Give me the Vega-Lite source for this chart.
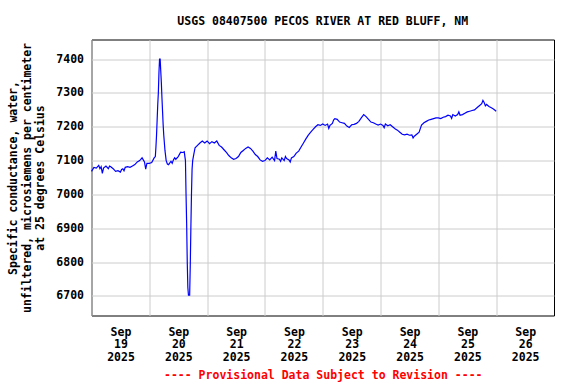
{
  "$schema": "https://vega.github.io/schema/vega-lite/v6.json",
  "width": 462.5,
  "height": 276,
  "autosize": {"type": "none"},
  "padding": {"left": 91.5, "top": 39.5, "right": 22, "bottom": 68.5},
  "background": "white",
  "config": {
    "view": {"stroke": "black", "strokeWidth": 1},
    "font": "DejaVu Sans Mono"
  },
  "title": {
    "text": "USGS 08407500 PECOS RIVER AT RED BLUFF, NM",
    "font": "DejaVu Sans Mono",
    "fontSize": 11.5,
    "fontWeight": "bold",
    "color": "black",
    "anchor": "middle",
    "offset": 12
  },
  "data": {
    "values": [
      {"t": "2025-09-19T00:00", "v": 7068},
      {"t": "2025-09-19T01:00", "v": 7080},
      {"t": "2025-09-19T02:00", "v": 7078},
      {"t": "2025-09-19T03:00", "v": 7086},
      {"t": "2025-09-19T03:30", "v": 7076},
      {"t": "2025-09-19T04:00", "v": 7082},
      {"t": "2025-09-19T04:30", "v": 7062},
      {"t": "2025-09-19T05:00", "v": 7078},
      {"t": "2025-09-19T06:00", "v": 7084},
      {"t": "2025-09-19T07:00", "v": 7076},
      {"t": "2025-09-19T07:30", "v": 7084},
      {"t": "2025-09-19T08:00", "v": 7082},
      {"t": "2025-09-19T09:00", "v": 7076},
      {"t": "2025-09-19T10:00", "v": 7068},
      {"t": "2025-09-19T11:00", "v": 7070},
      {"t": "2025-09-19T12:00", "v": 7066},
      {"t": "2025-09-19T12:30", "v": 7074},
      {"t": "2025-09-19T13:00", "v": 7076},
      {"t": "2025-09-19T13:30", "v": 7070},
      {"t": "2025-09-19T14:00", "v": 7080},
      {"t": "2025-09-19T15:00", "v": 7082},
      {"t": "2025-09-19T16:00", "v": 7080},
      {"t": "2025-09-19T17:00", "v": 7084},
      {"t": "2025-09-19T18:00", "v": 7088},
      {"t": "2025-09-19T19:00", "v": 7096},
      {"t": "2025-09-19T20:00", "v": 7100},
      {"t": "2025-09-19T21:00", "v": 7108},
      {"t": "2025-09-19T22:00", "v": 7096},
      {"t": "2025-09-19T22:30", "v": 7075},
      {"t": "2025-09-19T23:00", "v": 7092},
      {"t": "2025-09-20T00:00", "v": 7092},
      {"t": "2025-09-20T01:00", "v": 7094},
      {"t": "2025-09-20T02:00", "v": 7108},
      {"t": "2025-09-20T02:30", "v": 7112},
      {"t": "2025-09-20T02:45", "v": 7140},
      {"t": "2025-09-20T03:00", "v": 7175},
      {"t": "2025-09-20T03:15", "v": 7220},
      {"t": "2025-09-20T03:30", "v": 7265},
      {"t": "2025-09-20T03:45", "v": 7300},
      {"t": "2025-09-20T04:00", "v": 7360},
      {"t": "2025-09-20T04:15", "v": 7400},
      {"t": "2025-09-20T04:30", "v": 7400},
      {"t": "2025-09-20T04:45", "v": 7365},
      {"t": "2025-09-20T05:00", "v": 7330},
      {"t": "2025-09-20T05:15", "v": 7285},
      {"t": "2025-09-20T05:30", "v": 7245},
      {"t": "2025-09-20T05:45", "v": 7205},
      {"t": "2025-09-20T06:00", "v": 7175},
      {"t": "2025-09-20T06:30", "v": 7130},
      {"t": "2025-09-20T07:00", "v": 7100},
      {"t": "2025-09-20T07:30", "v": 7090},
      {"t": "2025-09-20T08:00", "v": 7088},
      {"t": "2025-09-20T09:00", "v": 7098},
      {"t": "2025-09-20T09:30", "v": 7092},
      {"t": "2025-09-20T10:00", "v": 7102},
      {"t": "2025-09-20T10:30", "v": 7108},
      {"t": "2025-09-20T11:00", "v": 7104},
      {"t": "2025-09-20T12:00", "v": 7112},
      {"t": "2025-09-20T13:00", "v": 7125},
      {"t": "2025-09-20T14:00", "v": 7124},
      {"t": "2025-09-20T14:30", "v": 7126},
      {"t": "2025-09-20T15:00", "v": 7100},
      {"t": "2025-09-20T15:15", "v": 7000},
      {"t": "2025-09-20T15:30", "v": 6915},
      {"t": "2025-09-20T15:45", "v": 6800},
      {"t": "2025-09-20T16:00", "v": 6725},
      {"t": "2025-09-20T16:15", "v": 6702},
      {"t": "2025-09-20T16:30", "v": 6702},
      {"t": "2025-09-20T16:45", "v": 6702},
      {"t": "2025-09-20T17:00", "v": 6790},
      {"t": "2025-09-20T17:15", "v": 6900},
      {"t": "2025-09-20T17:30", "v": 7000},
      {"t": "2025-09-20T17:45", "v": 7074},
      {"t": "2025-09-20T18:00", "v": 7100},
      {"t": "2025-09-20T18:30", "v": 7120},
      {"t": "2025-09-20T19:00", "v": 7138},
      {"t": "2025-09-20T20:00", "v": 7145},
      {"t": "2025-09-20T21:00", "v": 7152},
      {"t": "2025-09-20T22:00", "v": 7158},
      {"t": "2025-09-20T23:00", "v": 7152},
      {"t": "2025-09-21T00:00", "v": 7158},
      {"t": "2025-09-21T01:00", "v": 7150},
      {"t": "2025-09-21T02:00", "v": 7156},
      {"t": "2025-09-21T03:00", "v": 7152},
      {"t": "2025-09-21T04:00", "v": 7158},
      {"t": "2025-09-21T05:00", "v": 7145},
      {"t": "2025-09-21T06:00", "v": 7140},
      {"t": "2025-09-21T07:00", "v": 7132},
      {"t": "2025-09-21T08:00", "v": 7124},
      {"t": "2025-09-21T09:00", "v": 7115},
      {"t": "2025-09-21T10:00", "v": 7108},
      {"t": "2025-09-21T11:00", "v": 7104},
      {"t": "2025-09-21T12:00", "v": 7106},
      {"t": "2025-09-21T13:00", "v": 7112},
      {"t": "2025-09-21T14:00", "v": 7124},
      {"t": "2025-09-21T15:00", "v": 7130},
      {"t": "2025-09-21T16:00", "v": 7136},
      {"t": "2025-09-21T17:00", "v": 7140},
      {"t": "2025-09-21T18:00", "v": 7136},
      {"t": "2025-09-21T19:00", "v": 7128},
      {"t": "2025-09-21T20:00", "v": 7118},
      {"t": "2025-09-21T21:00", "v": 7112},
      {"t": "2025-09-21T22:00", "v": 7102},
      {"t": "2025-09-21T23:00", "v": 7098},
      {"t": "2025-09-22T00:00", "v": 7100},
      {"t": "2025-09-22T01:00", "v": 7108},
      {"t": "2025-09-22T02:00", "v": 7102},
      {"t": "2025-09-22T03:00", "v": 7110},
      {"t": "2025-09-22T04:00", "v": 7100},
      {"t": "2025-09-22T04:30", "v": 7128},
      {"t": "2025-09-22T05:00", "v": 7106},
      {"t": "2025-09-22T06:00", "v": 7104},
      {"t": "2025-09-22T06:30", "v": 7098},
      {"t": "2025-09-22T07:00", "v": 7108},
      {"t": "2025-09-22T08:00", "v": 7100},
      {"t": "2025-09-22T08:30", "v": 7112},
      {"t": "2025-09-22T09:00", "v": 7106},
      {"t": "2025-09-22T10:00", "v": 7102},
      {"t": "2025-09-22T10:30", "v": 7096},
      {"t": "2025-09-22T11:00", "v": 7108},
      {"t": "2025-09-22T12:00", "v": 7112},
      {"t": "2025-09-22T13:00", "v": 7122},
      {"t": "2025-09-22T14:00", "v": 7128},
      {"t": "2025-09-22T15:00", "v": 7140},
      {"t": "2025-09-22T16:00", "v": 7152},
      {"t": "2025-09-22T17:00", "v": 7164},
      {"t": "2025-09-22T18:00", "v": 7175},
      {"t": "2025-09-22T19:00", "v": 7184},
      {"t": "2025-09-22T20:00", "v": 7192},
      {"t": "2025-09-22T21:00", "v": 7200},
      {"t": "2025-09-22T22:00", "v": 7206},
      {"t": "2025-09-22T23:00", "v": 7204},
      {"t": "2025-09-23T00:00", "v": 7208},
      {"t": "2025-09-23T01:00", "v": 7204},
      {"t": "2025-09-23T02:00", "v": 7208},
      {"t": "2025-09-23T02:30", "v": 7195},
      {"t": "2025-09-23T03:00", "v": 7204},
      {"t": "2025-09-23T04:00", "v": 7210},
      {"t": "2025-09-23T04:30", "v": 7220},
      {"t": "2025-09-23T05:00", "v": 7224},
      {"t": "2025-09-23T06:00", "v": 7222},
      {"t": "2025-09-23T07:00", "v": 7214},
      {"t": "2025-09-23T08:00", "v": 7212},
      {"t": "2025-09-23T09:00", "v": 7210},
      {"t": "2025-09-23T10:00", "v": 7202},
      {"t": "2025-09-23T11:00", "v": 7198},
      {"t": "2025-09-23T12:00", "v": 7206},
      {"t": "2025-09-23T13:00", "v": 7207},
      {"t": "2025-09-23T14:00", "v": 7210},
      {"t": "2025-09-23T15:00", "v": 7216},
      {"t": "2025-09-23T16:00", "v": 7226},
      {"t": "2025-09-23T17:00", "v": 7236},
      {"t": "2025-09-23T18:00", "v": 7230},
      {"t": "2025-09-23T19:00", "v": 7222},
      {"t": "2025-09-23T20:00", "v": 7214},
      {"t": "2025-09-23T21:00", "v": 7212},
      {"t": "2025-09-23T22:00", "v": 7208},
      {"t": "2025-09-23T23:00", "v": 7205},
      {"t": "2025-09-24T00:00", "v": 7208},
      {"t": "2025-09-24T01:00", "v": 7204},
      {"t": "2025-09-24T01:30", "v": 7197},
      {"t": "2025-09-24T02:00", "v": 7208},
      {"t": "2025-09-24T03:00", "v": 7203},
      {"t": "2025-09-24T04:00", "v": 7206},
      {"t": "2025-09-24T05:00", "v": 7200},
      {"t": "2025-09-24T06:00", "v": 7194},
      {"t": "2025-09-24T07:00", "v": 7190},
      {"t": "2025-09-24T08:00", "v": 7184},
      {"t": "2025-09-24T09:00", "v": 7178},
      {"t": "2025-09-24T10:00", "v": 7176},
      {"t": "2025-09-24T11:00", "v": 7178},
      {"t": "2025-09-24T12:00", "v": 7175},
      {"t": "2025-09-24T13:00", "v": 7176},
      {"t": "2025-09-24T13:30", "v": 7167},
      {"t": "2025-09-24T14:00", "v": 7172},
      {"t": "2025-09-24T15:00", "v": 7178},
      {"t": "2025-09-24T16:00", "v": 7184},
      {"t": "2025-09-24T17:00", "v": 7205},
      {"t": "2025-09-24T18:00", "v": 7212},
      {"t": "2025-09-24T19:00", "v": 7216},
      {"t": "2025-09-24T20:00", "v": 7220},
      {"t": "2025-09-24T21:00", "v": 7222},
      {"t": "2025-09-24T22:00", "v": 7224},
      {"t": "2025-09-24T23:00", "v": 7226},
      {"t": "2025-09-25T00:00", "v": 7226},
      {"t": "2025-09-25T01:00", "v": 7224},
      {"t": "2025-09-25T02:00", "v": 7228},
      {"t": "2025-09-25T03:00", "v": 7230},
      {"t": "2025-09-25T04:00", "v": 7234},
      {"t": "2025-09-25T05:00", "v": 7232},
      {"t": "2025-09-25T05:30", "v": 7225},
      {"t": "2025-09-25T06:00", "v": 7236},
      {"t": "2025-09-25T07:00", "v": 7232},
      {"t": "2025-09-25T08:00", "v": 7236},
      {"t": "2025-09-25T08:30", "v": 7244},
      {"t": "2025-09-25T09:00", "v": 7234},
      {"t": "2025-09-25T10:00", "v": 7236},
      {"t": "2025-09-25T11:00", "v": 7240},
      {"t": "2025-09-25T12:00", "v": 7244},
      {"t": "2025-09-25T13:00", "v": 7246},
      {"t": "2025-09-25T14:00", "v": 7248},
      {"t": "2025-09-25T15:00", "v": 7250},
      {"t": "2025-09-25T16:00", "v": 7256},
      {"t": "2025-09-25T17:00", "v": 7262},
      {"t": "2025-09-25T18:00", "v": 7268},
      {"t": "2025-09-25T18:30", "v": 7278},
      {"t": "2025-09-25T19:00", "v": 7272},
      {"t": "2025-09-25T19:30", "v": 7262},
      {"t": "2025-09-25T20:00", "v": 7266},
      {"t": "2025-09-25T21:00", "v": 7260},
      {"t": "2025-09-25T22:00", "v": 7256},
      {"t": "2025-09-25T23:00", "v": 7252},
      {"t": "2025-09-26T00:00", "v": 7246}
    ]
  },
  "mark": {"type": "line", "color": "#0000ff", "strokeWidth": 1.2},
  "encoding": {
    "x": {
      "field": "t",
      "type": "temporal",
      "scale": {"domain": ["2025-09-19T00:00", "2025-09-27T00:00"]},
      "axis": {
        "values": [
          {"year": 2025, "month": 9, "date": 19},
          {"year": 2025, "month": 9, "date": 20},
          {"year": 2025, "month": 9, "date": 21},
          {"year": 2025, "month": 9, "date": 22},
          {"year": 2025, "month": 9, "date": 23},
          {"year": 2025, "month": 9, "date": 24},
          {"year": 2025, "month": 9, "date": 25},
          {"year": 2025, "month": 9, "date": 26}
        ],
        "labelExpr": "[timeFormat(datum.value, '%b'), timeFormat(datum.value, '%d'), timeFormat(datum.value, '%Y')]",
        "labelOffset": 29,
        "labelFont": "DejaVu Sans Mono",
        "labelFontWeight": "bold",
        "labelFontSize": 11.5,
        "labelColor": "black",
        "labelLineHeight": 12.7,
        "labelPadding": 10.5,
        "labelOverlap": false,
        "labelFlush": false,
        "labelBound": false,
        "labelAlign": "center",
        "ticks": false,
        "domain": false,
        "grid": true,
        "gridColor": "#cccccc",
        "gridWidth": 1,
        "title": "---- Provisional Data Subject to Revision ----",
        "titleFont": "DejaVu Sans Mono",
        "titleFontWeight": "bold",
        "titleFontSize": 11.5,
        "titleColor": "#ff0000",
        "titlePadding": 6.5
      }
    },
    "y": {
      "field": "v",
      "type": "quantitative",
      "scale": {"domain": [6642, 7458], "nice": false, "zero": false},
      "axis": {
        "values": [6700, 6800, 6900, 7000, 7100, 7200, 7300, 7400],
        "format": "d",
        "labelFont": "DejaVu Sans Mono",
        "labelFontWeight": "bold",
        "labelFontSize": 11.5,
        "labelColor": "black",
        "labelPadding": 8,
        "ticks": false,
        "domain": false,
        "grid": true,
        "gridColor": "#cccccc",
        "gridWidth": 1,
        "title": ["Specific conductance, water,", "unfiltered, microsiemens per centimeter", "at 25 degrees Celsius"],
        "titleFont": "DejaVu Sans Mono",
        "titleFontWeight": "bold",
        "titleFontSize": 11.5,
        "titleColor": "black",
        "titleLineHeight": 13.5,
        "titlePadding": 10
      }
    }
  }
}
